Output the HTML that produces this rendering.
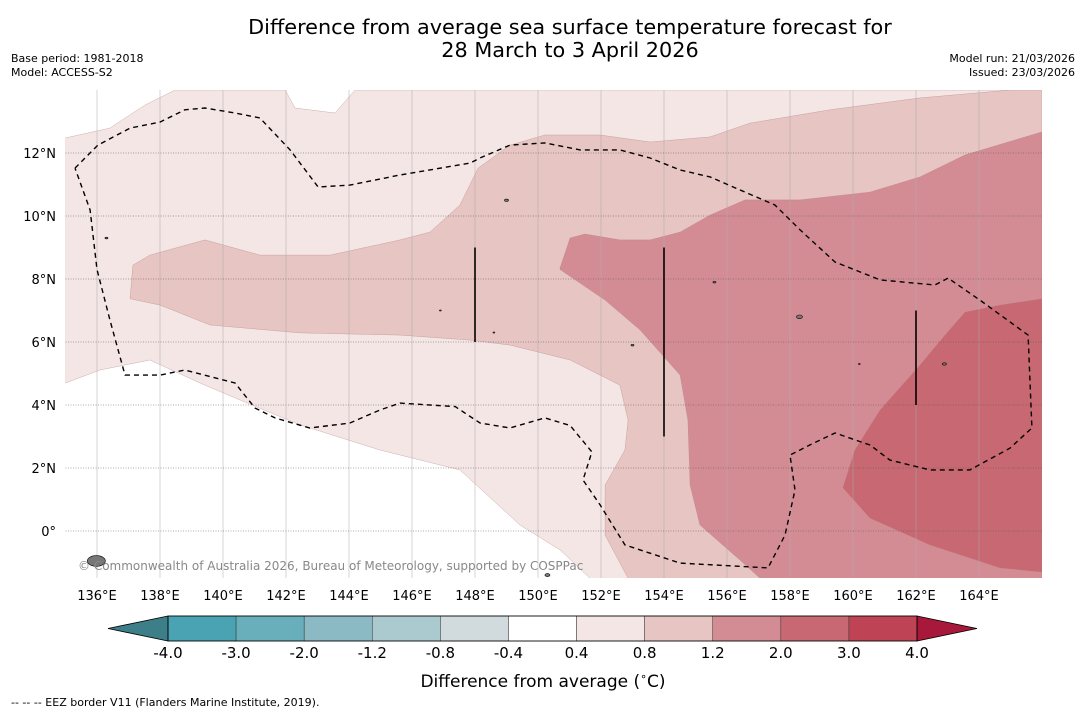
<!DOCTYPE html>
<html><head><meta charset="utf-8"><style>
body{margin:0;background:#fff;width:1085px;height:713px;overflow:hidden;font-family:"DejaVu Sans","Liberation Sans",sans-serif}
svg{display:block}
</style></head><body>
<svg id="chart" width="1085" height="713" viewBox="0 0 1085 713" xmlns="http://www.w3.org/2000/svg" font-family="DejaVu Sans, Liberation Sans, sans-serif">
<text x="570" y="34" font-size="20.8" text-anchor="middle">Difference from average sea surface temperature forecast for</text>
<text x="570" y="57" font-size="20.8" text-anchor="middle">28 March to 3 April 2026</text>
<text x="11" y="62" font-size="11">Base period: 1981-2018</text>
<text x="11" y="76" font-size="11">Model: ACCESS-S2</text>
<text x="1075" y="62" font-size="11" text-anchor="end">Model run: 21/03/2026</text>
<text x="1075" y="76" font-size="11" text-anchor="end">Issued: 23/03/2026</text>
<defs><clipPath id="mapclip"><rect x="65.5" y="90" width="976.5" height="488"/></clipPath></defs>
<g id="map" clip-path="url(#mapclip)"></g>
<g id="axes"></g>
<g id="cbar"></g>
<text x="543" y="687" font-size="17" text-anchor="middle">Difference from average (<tspan font-size="11" dy="-7">∘</tspan><tspan dy="7">C)</tspan></text>
<text x="11" y="706" font-size="11">--  --  -- EEZ border V11 (Flanders Marine Institute, 2019).</text>
</svg>
<script>
const lonTicks=[136,138,140,142,144,146,148,150,152,154,156,158,160,162,164];
const latTicks=[0,2,4,6,8,10,12];
const latLabels=["0°","2°N","4°N","6°N","8°N","10°N","12°N"];
const cbarLevels=[-4.0,-3.0,-2.0,-1.2,-0.8,-0.4,0.4,0.8,1.2,2.0,3.0,4.0];
const cbarLabels=["-4.0","-3.0","-2.0","-1.2","-0.8","-0.4","0.4","0.8","1.2","2.0","3.0","4.0"];
const cbarColors=["#4aa3b3","#69aebb","#8bbac5","#aacad0","#d1dadc","#ffffff","#f4e6e5","#e6c5c2","#d48c94","#c86872","#be4455"];
const contour04=[[135,12.48],[136.41,12.79],[137.52,13.52],[138.48,14],[141.97,14],[142.29,13.43],[143.56,13.27],[144.19,14],[166,14],[166,-1.5],[151.65,-1.5],[150.7,-0.6],[149.43,0.19],[147.52,1.94],[144.98,2.57],[142.44,3.37],[140.54,4.16],[139.27,4.7],[137.68,5.43],[136.1,5.11],[135,4.7]];
const contour08=[[137.05,7.4],[137.14,8.44],[137.68,8.76],[139.43,9.24],[141.17,8.76],[143.4,8.76],[145.62,9.24],[146.57,9.49],[147.52,10.35],[148.1,11.52],[149.11,12.25],[150.22,12.57],[151.97,12.57],[153.56,12.35],[155.46,12.51],[156.73,12.95],[159.27,13.37],[162.13,13.75],[165,14],[166,14],[166,-1.5],[152.86,-1.5],[152.13,-0.13],[152.13,1.46],[152.76,2.57],[152.86,3.52],[152.6,4.63],[151.02,5.43],[149.11,5.9],[147.84,6.06],[145.62,6.22],[142.44,6.29],[139.59,6.54],[138,7.17],[137.05,7.37]];
const contour12=[[150.7,8.35],[151.02,9.3],[151.49,9.43],[152.6,9.24],[153.56,9.24],[154.51,9.49],[155.46,10.03],[156.57,10.51],[158.32,10.51],[160.54,10.76],[162.13,11.24],[163.56,11.94],[166,12.67],[166,-1.5],[157.05,-1.5],[156.41,-0.92],[155.14,0.19],[154.83,1.46],[154.76,3.52],[154.51,4.95],[153.24,6.38],[152.13,7.33],[150.7,8.3]];
const contour20=[[159.68,1.37],[160.06,2.57],[160.86,3.84],[162.13,5.27],[162.92,6.22],[163.56,6.95],[164.67,7.17],[166,7.37],[166,-1.3],[164.67,-1.17],[162.44,-0.44],[160.54,0.41],[159.68,1.37]];
const eezLine=[[135.3,11.52],[136.03,12.25],[137.05,12.79],[138,12.98],[138.79,13.37],[139.43,13.43],[140.38,13.27],[141.17,13.11],[142.13,12.1],[143.02,10.92],[144.03,10.98],[145.62,11.3],[147.84,11.68],[148.16,11.84],[149.11,12.25],[150.22,12.32],[151.33,12.1],[152.6,12.1],[153.56,11.84],[154.51,11.46],[155.46,11.24],[156.41,10.83],[157.52,10.35],[158.32,9.56],[159.43,8.54],[160.86,7.97],[162.6,7.81],[163.02,8.03],[164.03,7.33],[165.56,6.22],[165.68,3.27],[164.98,2.63],[163.71,1.94],[162.44,1.94],[161.17,2.25],[160.54,2.73],[159.43,3.11],[158.63,2.73],[158,2.41],[158.16,1.3],[157.84,-0.13],[157.3,-1.17],[154.51,-1.02],[152.76,-0.44],[151.97,0.83],[151.43,1.62],[151.71,2.51],[151.02,3.35],[150.22,3.59],[149.11,3.27],[148.16,3.43],[147.37,3.95],[145.62,4.06],[144.98,3.84],[144.03,3.43],[142.76,3.27],[141.65,3.59],[141.02,3.9],[140.38,4.7],[138.79,5.11],[138,4.95],[136.89,4.95],[136.41,6.7],[136.0,8.3],[135.78,10.19],[135.3,11.52]];
const eezSegLons=[148,154,162];
const eezSegLat0=[6,3,4];
const eezSegLat1=[9,9,7];
const islandLons=[135.98,149.0,153.0,158.3,155.6,160.2,162.9,136.3,150.3,146.9,148.6];
const islandLats=[-0.95,10.5,5.9,6.8,7.9,5.3,5.3,9.3,-1.4,7.0,6.3];
const islandSizes=[9,2,1.5,3,1.5,1,2,1.5,2.5,1,1];

const NS="http://www.w3.org/2000/svg";
const X=lon=>65.5+(lon-135)*31.5;
const Y=lat=>90+(14-lat)*31.5;
function mk(tag,attrs,parent){const e=document.createElementNS(NS,tag);for(const k in attrs)e.setAttribute(k,attrs[k]);parent.appendChild(e);return e;}
const map=document.getElementById('map'),axes=document.getElementById('axes'),cbar=document.getElementById('cbar');
const pts=a=>a.map(p=>X(p[0]).toFixed(1)+','+Y(p[1]).toFixed(1)).join(' ');
[[contour04,"#f4e6e5","contour-0-4"],[contour08,"#e6c5c2","contour-0-8"],[contour12,"#d48c94","contour-1-2"],[contour20,"#c86872","contour-2-0"]].forEach(c=>{
 const p=mk('polygon',{points:pts(c[0]),fill:c[1],stroke:"#b08080","stroke-width":0.3},map);
 
 
});
lonTicks.forEach(l=>{const g=mk('line',{x1:X(l),x2:X(l),y1:90,y2:578,stroke:"#aaa","stroke-width":0.5},map);
 
 });
latTicks.forEach(l=>{const g=mk('line',{x1:65.5,x2:1042,y1:Y(l),y2:Y(l),stroke:"#555","stroke-width":0.5,"stroke-dasharray":"1,1.5"},map);
 
 });
islandLons.forEach((l,i)=>{const e=mk('ellipse',{cx:X(l),cy:Y(islandLats[i]),rx:islandSizes[i],ry:islandSizes[i]*0.6,fill:"#777",stroke:"#000","stroke-width":0.6},map);
 
 });
const eez=mk('polyline',{points:pts(eezLine),fill:"none",stroke:"#000","stroke-width":1.4,"stroke-dasharray":"5,4"},map);


eezSegLons.forEach((l,i)=>{const s=mk('line',{x1:X(l),x2:X(l),y1:Y(eezSegLat0[i]),y2:Y(eezSegLat1[i]),stroke:"#000","stroke-width":1.6},map);
 
 });
const cr=mk('text',{x:78,y:570,"font-size":12,fill:"#888"},map);cr.textContent="© Commonwealth of Australia 2026, Bureau of Meteorology, supported by COSPPac";


lonTicks.forEach(l=>{const t=mk('text',{x:X(l),y:600,"font-size":13,"text-anchor":"middle"},axes);t.textContent=l+"°E";
 
 });
latTicks.forEach((l,i)=>{const t=mk('text',{x:56,y:Y(l)+5,"font-size":13,"text-anchor":"end"},axes);t.textContent=latLabels[i];
 
 });
const cx0=168,cx1=917,cy0=616,cy1=641;
const CX=v=>cx0+(cbarLevels.indexOf(v))*(cx1-cx0)/(cbarLevels.length-1);
cbarColors.forEach((c,i)=>{const r=mk('rect',{x:CX(cbarLevels[i]),y:cy0,width:CX(cbarLevels[i+1])-CX(cbarLevels[i]),height:cy1-cy0,fill:c,stroke:"#333","stroke-width":0.5},cbar);
 
 });
const tl=mk('polygon',{points:`${cx0},${cy0} 108,${(cy0+cy1)/2} ${cx0},${cy1}`,fill:"#3d7f88",stroke:"#000","stroke-width":0.8},cbar);


const tr=mk('polygon',{points:`${cx1},${cy0} 977,${(cy0+cy1)/2} ${cx1},${cy1}`,fill:"#a8183a",stroke:"#000","stroke-width":0.8},cbar);


mk('rect',{x:cx0,y:cy0,width:cx1-cx0,height:cy1-cy0,fill:"none",stroke:"#000","stroke-width":0.8},cbar);
cbarLevels.forEach((v,i)=>{const t=mk('text',{x:CX(v),y:658,"font-size":15,"text-anchor":"middle"},cbar);t.textContent=cbarLabels[i];
 
 });
</script>
</body></html>
